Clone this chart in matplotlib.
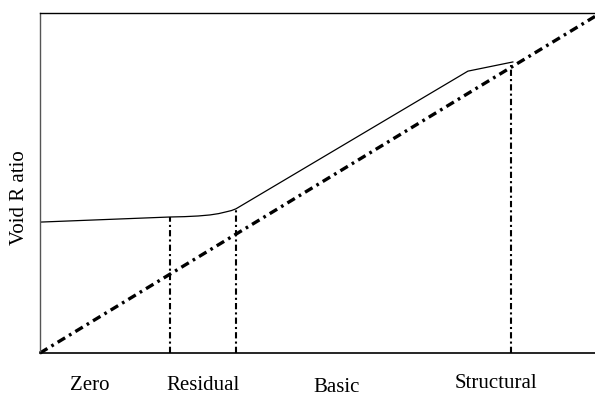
import matplotlib
matplotlib.use("Agg")
import matplotlib.pyplot as plt

# Data (arbitrary units, x 0-100, y 0-100)
curve_x = [0, 23.4, 26.0, 28.5, 30.6, 32.2, 33.5, 34.5, 35.3, 77.1, 85.2]
curve_y = [38.5, 40.0, 40.1, 40.3, 40.6, 41.0, 41.5, 41.9, 42.4, 82.9, 85.6]
diag_x = [0, 100]
diag_y = [0, 99.0]
vline_x = [23.4, 35.3, 84.9]
vline_top = [40.0, 42.4, 84.7]
zone_labels = ["Zero", "Residual", "Basic", "Structural"]
zone_label_x = [9.0, 29.4, 53.5, 82.2]
zone_label_y = [-9.5, -9.5, -10.0, -8.9]

plt.rcParams['font.family'] = ['Liberation Serif', 'DejaVu Serif']

fig = plt.figure(figsize=(5.95, 3.95), dpi=100)
ax = fig.add_axes([40/595, 42/395, 555/595, 340/395])
ax.set_xlim(0, 100)
ax.set_ylim(0, 100)

ax.plot(curve_x, curve_y, color='black', lw=0.9, solid_joinstyle='round')
ax.plot(diag_x, diag_y, color='black', lw=2.4, linestyle=(0, (2.6, 1.4, 0.8, 1.4)),
        clip_on=False)
for x, t in zip(vline_x, vline_top):
    ax.plot([x, x], [0, t], color='black', lw=1.5, linestyle=(0, (3.0, 1.5, 1.0, 1.5)))

ax.spines['right'].set_visible(False)
ax.spines['top'].set_linewidth(1.0)
ax.spines['bottom'].set_linewidth(1.2)
ax.spines['left'].set_linewidth(1.0)
ax.spines['left'].set_color('#555555')
ax.set_xticks([])
ax.set_yticks([])

for lab, x, y in zip(zone_labels, zone_label_x, zone_label_y):
    ax.text(x, y, lab, ha='center', va='center', fontsize=15)

fig.text(20/595, 1 - 198/395, "Void R atio", rotation=90, ha='center', va='center',
         fontsize=15)

fig.savefig("out.png", dpi=100)
